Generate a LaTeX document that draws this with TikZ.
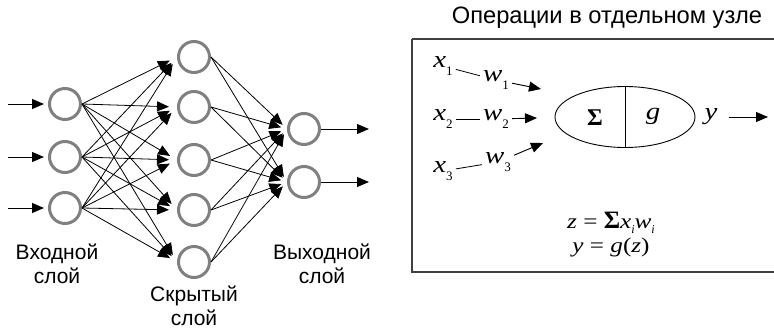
\documentclass[tikz,border=0pt]{standalone}
\usepackage{fontspec}
\setmainfont{Liberation Sans}
\newfontfamily\mathserif[FakeStretch=1.2]{Liberation Serif}
\newfontfamily\plainserif{Liberation Serif}
\usetikzlibrary{arrows.meta,shapes.geometric}
\newcommand{\mv}[1]{{\mathserif\itshape #1}}
\newcommand{\msub}[1]{\raisebox{-0.3em}{\fontsize{13}{13}\selectfont\plainserif #1}}
\newcommand{\fsub}[1]{\raisebox{-0.25em}{\fontsize{12}{12}\selectfont\plainserif\itshape #1}}
\newcommand{\eqs}{\hspace{0.3em}=\hspace{0.3em}}
\begin{document}
\begin{tikzpicture}[x=1pt,y=-1pt,
  neuron/.style={circle,draw=black!50,line width=3pt,minimum size=31pt,inner sep=0pt},
  arr/.style={line width=0.9pt,-{Triangle[length=12pt,width=10pt]}},
  link/.style={line width=0.8pt,-{Triangle[length=12pt,width=10pt]}},
  lab/.style={font=\fontsize{21}{24}\selectfont,align=center,inner sep=0pt},
  sym/.style={font=\fontsize{24}{24}\selectfont,inner sep=3pt},
  seg/.style={line width=0.8pt}]
\useasboundingbox (0,0) rectangle (774,329);
% input layer
\node[neuron] (i1) at (65,104) {};
\node[neuron] (i2) at (65,157) {};
\node[neuron] (i3) at (65,208) {};
% hidden layer
\node[neuron] (h1) at (194,57) {};
\node[neuron] (h2) at (194,107) {};
\node[neuron] (h3) at (194,160) {};
\node[neuron] (h4) at (194,210) {};
\node[neuron] (h5) at (194,262) {};
% output layer
\node[neuron] (o1) at (304,129) {};
\node[neuron] (o2) at (304,182) {};
% inputs
\coordinate (a1) at (8,104);
\coordinate (a2) at (8,157);
\coordinate (a3) at (8,208);
\foreach \k in {1,2,3} \draw[arr,shorten >=4pt] (a\k) -- (i\k.west);
% outputs
\coordinate (b1) at (369,129);
\coordinate (b2) at (369,182);
\foreach \k in {1,2} \draw[arr] (o\k.east) -- (b\k);
% connections
\foreach \i in {1,2,3}
  \foreach \h in {1,...,5}
    \draw[link,shorten >=8pt] (i\i.east) -- (h\h.west);
\foreach \h in {1,...,5}
  \foreach \o in {1,2}
    \draw[link,shorten >=6pt] (h\h.east) -- (o\o.west);
% layer labels
\node[lab] (li) at (57,264) {Входной\\слой};
\node[lab] (lh) at (194,306) {Скрытый\\слой};
\node[lab] (lo) at (322,264) {Выходной\\слой};
% right panel
\node[font=\fontsize{23.7}{24}\selectfont,inner sep=0pt] (title) at (607,18) {Операции в отдельном узле};
\draw[line width=1.3pt,black!75] (412,39) -- (780,39);
\draw[line width=1.3pt,black!75] (412,39) -- (412,272) -- (780,272);
\node[sym] (x1) at (443,66) {\mv{x}\msub{1}};
\node[sym] (x2) at (443,119) {\mv{x}\msub{2}};
\node[sym] (x3) at (443,171) {\mv{x}\msub{3}};
\node[sym] (w1) at (496,80) {\mv{w}\msub{1}};
\node[sym] (w2) at (496,119) {\mv{w}\msub{2}};
\node[sym] (w3) at (498,162) {\mv{w}\msub{3}};
\draw[seg] (x1) -- (w1);
\draw[seg] (x2) -- (w2);
\draw[seg] (x3) -- (w3);
\coordinate (t1) at (541,89);
\coordinate (t2) at (537,118);
\coordinate (t3) at (543,143);
\draw[arr] (w1) -- (t1);
\draw[arr] (w2) -- (t2);
\draw[arr] (w3) -- (t3);
\node[ellipse,draw,line width=0.9pt,minimum width=140pt,minimum height=61pt,inner sep=0pt] (cell) at (625,117) {};
\draw[line width=0.9pt] (cell.north) -- (cell.south);
\node[inner sep=1pt,font=\fontsize{24}{24}\selectfont\plainserif\bfseries] (sig) at (595,118) {Σ};
\node[sym] (g) at (653,116) {\mv{g}};
\node[sym] (y) at (711,117) {\mv{y}};
\coordinate (yo) at (768,117);
\draw[arr,shorten <=8pt] (y.east |- yo) -- (yo);
\node[font=\fontsize{21}{21}\selectfont\mathserif,inner sep=0pt,anchor=base] (f1) at (611,228)
  {\mv{z}\eqs{\fontsize{25}{25}\selectfont\plainserif\bfseries Σ}\mv{x}\fsub{i}\mv{w}\fsub{i}};
\node[font=\fontsize{21}{21}\selectfont\mathserif,inner sep=0pt,anchor=base] (f2) at (611,252)
  {\mv{y}\eqs\mv{g}(\mv{z})};
\end{tikzpicture}
\end{document}
